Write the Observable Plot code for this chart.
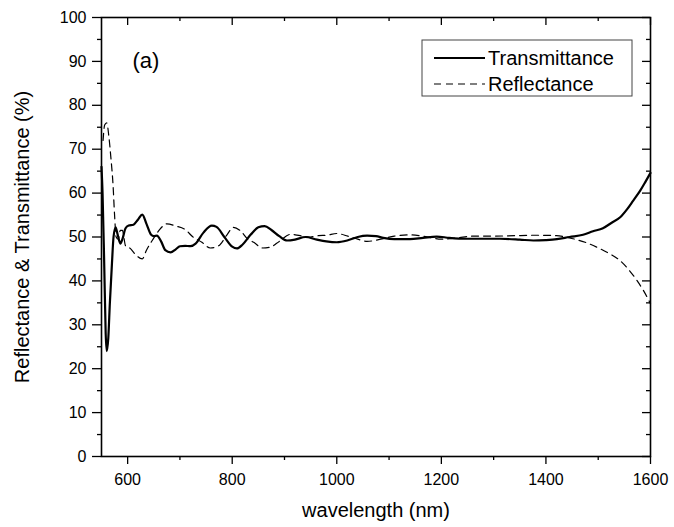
<!DOCTYPE html>
<html>
<head>
<meta charset="utf-8">
<script src="https://cdn.jsdelivr.net/npm/d3@7"></script>
<script src="https://cdn.jsdelivr.net/npm/@observablehq/plot@0.6"></script>
<style>
  html, body { margin: 0; padding: 0; background: #fff; }
  #wrap { position: relative; width: 674px; height: 527px; }
  #overlay { position: absolute; left: 0; top: 0; pointer-events: none; }
</style>
</head>
<body>
<div id="wrap"></div>
<script>
// ---- data ----
const tWave = [550,552,555,558,560,563,566,570,573,577,581,586,590,596,602,611,620,628,636,645,650,656,664,672,682,692,700,710,720,730,745,761,770,785,800,809,820,835,850,862,875,890,905,920,940,962,980,1000,1020,1040,1058,1075,1089,1110,1140,1165,1191,1215,1249,1280,1312,1350,1376,1400,1421,1445,1471,1490,1509,1525,1542,1555,1567,1580,1590,1600];
const tValue = [66,60,45,28,24,27,35,44,50,52.2,50.5,48.5,49.5,52,52.6,52.8,54,55.1,53,50.5,50.2,50.3,49,47,46.5,47.2,47.9,48,47.9,48.5,51,52.6,52.3,50,47.8,47.4,48.3,50.5,52.2,52.5,51.6,50.2,49.2,49.4,50,49.4,49,48.8,49.2,50,50.3,50.2,49.8,49.5,49.5,49.8,50.1,49.8,49.6,49.6,49.6,49.4,49.2,49.3,49.5,50,50.5,51.3,52,53.2,54.5,56.3,58.3,60.5,62.5,64.6];

const rWave = [553,556,560,564,568,572,575,578,582,586,590,596,605,615,628,636,647,660,675,692,710,725,742,758,774,790,802,815,830,841,858,873,890,911,930,949,965,981,1000,1021,1040,1058,1080,1110,1140,1170,1200,1230,1260,1300,1340,1380,1420,1452,1475,1497,1520,1542,1558,1574,1588,1600];
const rValue = [72,75.5,76,73,68,62,55,50,49.5,51.5,51.5,48,47.4,46,45,47,49.2,51.5,53,52.5,51.7,50,48.8,47.5,48,50.5,52.2,51.5,49.5,48.8,47.5,47.7,49,50.6,50.3,50,50.3,50.4,50.8,50.2,49.5,49,49.4,50.2,50.5,50.1,49.5,49.8,50.2,50.2,50.3,50.4,50.3,49.6,48.8,47.7,46.3,44.6,42.6,40.1,37.5,34.8];

const xMajor = [600, 800, 1000, 1200, 1400, 1600];
const xMinor = [700, 900, 1100, 1300, 1500];
const yMajor = [0, 10, 20, 30, 40, 50, 60, 70, 80, 90, 100];
const yMinor = [5, 15, 25, 35, 45, 55, 65, 75, 85, 95];

const seriesNames = ["Transmittance", "Reflectance"];
const panelLabel = "(a)";
const xLabel = "wavelength (nm)";
const yLabel = "Reflectance & Transmittance (%)";

const tData = tWave.map((w, i) => ({w, v: tValue[i]}));
const rData = rWave.map((w, i) => ({w, v: rValue[i]}));

// ---- layout ----
const W = 674, H = 527;
const mL = 101, mR = 24, mT = 17, mB = 71;
const pw = W - mL - mR, ph = H - mT - mB;
const font = "'Liberation Sans', Arial, Helvetica, sans-serif";
const fmt = d3.format("d");

const chart = Plot.plot({
  width: W, height: H,
  marginLeft: mL, marginRight: mR, marginTop: mT, marginBottom: mB,
  style: {fontFamily: font, fontSize: "16px", color: "#000", background: "#fff", overflow: "visible"},
  x: {domain: [550, 1600]},
  y: {domain: [0, 100]},
  marks: [
    Plot.axisX({ticks: xMajor, tickSize: 8, tickPadding: 9, tickFormat: fmt, label: null, fontSize: 16, strokeWidth: 1.3}),
    Plot.axisX({ticks: xMinor, tickSize: 4, tickFormat: () => "", label: null, strokeWidth: 1.3}),
    Plot.axisY({ticks: yMajor, tickSize: 9, tickPadding: 6, tickFormat: fmt, label: null, fontSize: 16, strokeWidth: 1.3}),
    Plot.axisY({ticks: yMinor, tickSize: 4, tickFormat: () => "", label: null, strokeWidth: 1.3}),
    // inward ticks on top and right
    Plot.tickX(xMajor, {x: d => d, insetBottom: ph - 8, strokeWidth: 1.3}),
    Plot.tickX(xMinor, {x: d => d, insetBottom: ph - 4, strokeWidth: 1.3}),
    Plot.tickY(yMajor, {y: d => d, insetLeft: pw - 8, strokeWidth: 1.3}),
    Plot.tickY(yMinor, {y: d => d, insetLeft: pw - 4, strokeWidth: 1.3}),
    Plot.frame({stroke: "#000", strokeWidth: 1.6}),
    Plot.line(rData, {x: "w", y: "v", stroke: "#000", strokeWidth: 1.2, strokeDasharray: "7,5", curve: "monotone-x"}),
    Plot.line(tData, {x: "w", y: "v", stroke: "#000", strokeWidth: 2.2, curve: "monotone-x"}),
    Plot.text([xLabel], {frameAnchor: "bottom", dy: 54, fontSize: 20, lineAnchor: "middle", fill: "#000"}),
    Plot.text([yLabel], {frameAnchor: "left", dx: -79, rotate: -90, fontSize: 20, lineAnchor: "middle", textAnchor: "middle", fill: "#000"}),
    Plot.text([panelLabel], {frameAnchor: "top-left", dx: 31, dy: 50, fontSize: 22, textAnchor: "start", lineAnchor: "bottom", fill: "#000"})
  ]
});

const wrap = document.getElementById("wrap");
wrap.appendChild(chart);

// ---- legend overlay ----
const ns = "http://www.w3.org/2000/svg";
const ov = document.createElementNS(ns, "svg");
ov.setAttribute("id", "overlay");
ov.setAttribute("width", W);
ov.setAttribute("height", H);
const box = document.createElementNS(ns, "rect");
box.setAttribute("x", 422); box.setAttribute("y", 40);
box.setAttribute("width", 210); box.setAttribute("height", 56);
box.setAttribute("fill", "#fff"); box.setAttribute("stroke", "#444"); box.setAttribute("stroke-width", 1);
ov.appendChild(box);
const rows = [{y: 58, dash: null, sw: 2.2}, {y: 84, dash: "7,5", sw: 1.2}];
rows.forEach((r, i) => {
  const ln = document.createElementNS(ns, "line");
  ln.setAttribute("x1", 434); ln.setAttribute("x2", 485);
  ln.setAttribute("y1", r.y); ln.setAttribute("y2", r.y);
  ln.setAttribute("stroke", "#000"); ln.setAttribute("stroke-width", r.sw);
  if (r.dash) ln.setAttribute("stroke-dasharray", r.dash);
  ov.appendChild(ln);
  const tx = document.createElementNS(ns, "text");
  tx.setAttribute("x", 488); tx.setAttribute("y", r.y);
  tx.setAttribute("dy", "0.35em");
  tx.setAttribute("font-family", font);
  tx.setAttribute("font-size", 20);
  tx.setAttribute("fill", "#000");
  tx.textContent = seriesNames[i];
  ov.appendChild(tx);
});
wrap.appendChild(ov);
</script>
</body>
</html>
